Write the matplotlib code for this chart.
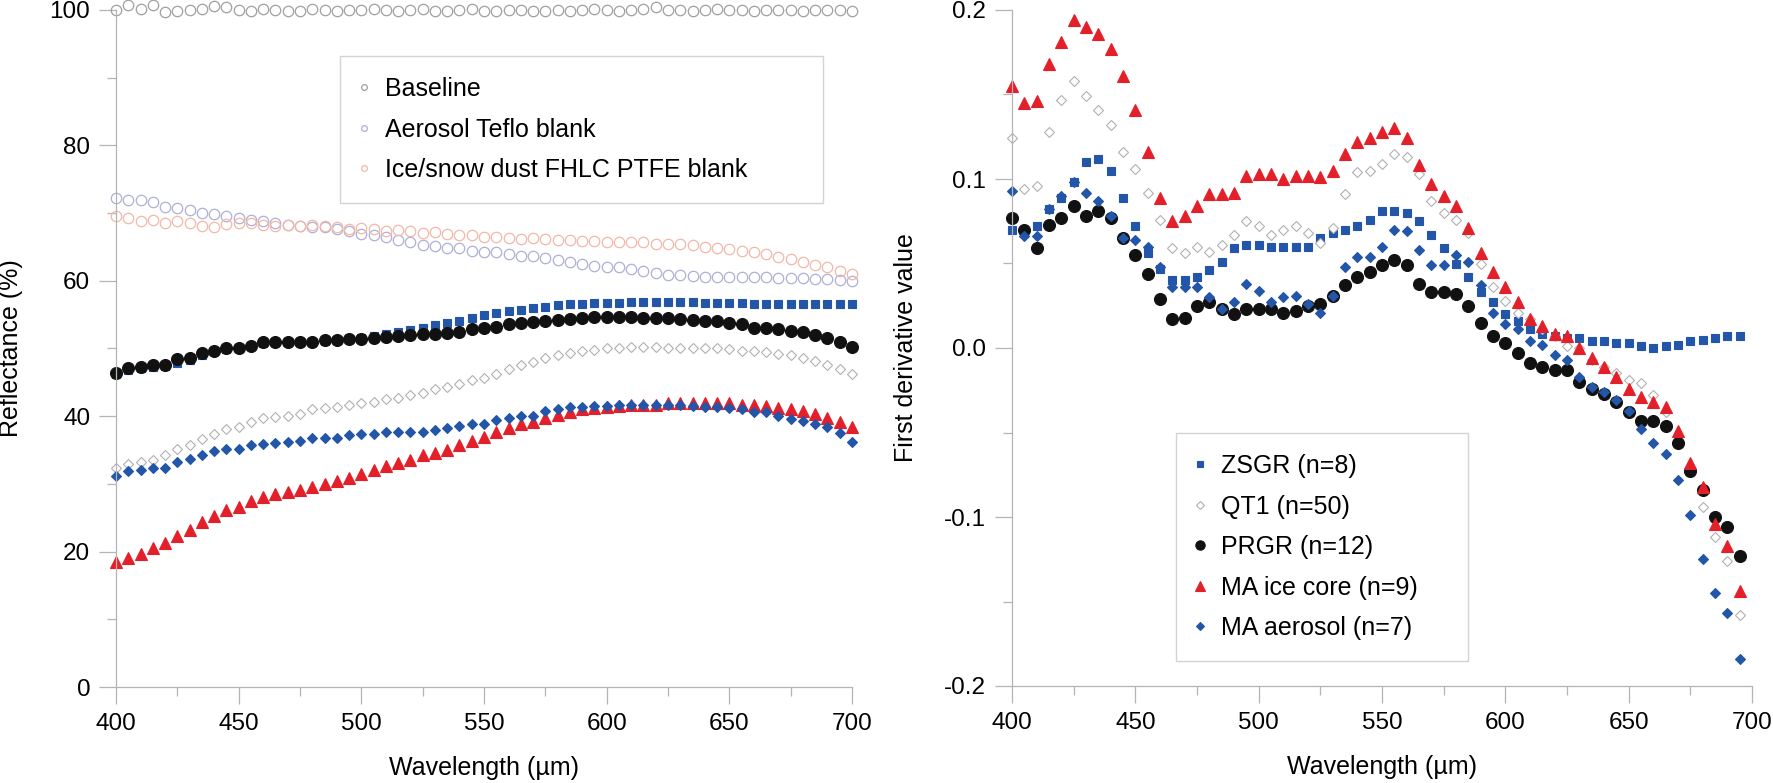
"""Reflectance spectra of dust samples and blanks (left) and their first derivative (right)."""
import numpy as np
import matplotlib
matplotlib.use("Agg")
import matplotlib.pyplot as plt
from matplotlib.ticker import MultipleLocator, FormatStrFormatter

plt.rcParams["font.family"] = ["Liberation Sans", "DejaVu Sans"]

# wavelength grids (nm, axis labelled as in the source figure)
wl_refl = np.arange(400, 705, 5)   # 61 points
wl_deriv = np.arange(400, 700, 5)  # 60 points

# --- left panel: reflectance (%) ---
baseline = [100.0, 100.8, 100.2, 100.7, 99.7, 99.9, 100.0, 100.1, 100.6, 100.5,
            100.0, 99.9, 100.1, 100.0, 99.8, 99.9, 100.2, 100.0, 99.8, 100.0,
            100.0, 100.1, 100.0, 99.9, 100.0, 100.1, 99.8, 99.9, 100.0, 100.1,
            99.8, 99.9, 100.0, 100.0, 99.8, 99.9, 100.0, 99.9, 100.0, 100.1,
            100.0, 99.9, 100.0, 100.2, 100.5, 100.0, 100.0, 99.9, 100.0, 100.1,
            100.0, 100.0, 99.9, 100.0, 100.0, 100.0, 99.9, 100.0, 100.0, 100.0, 99.9]
teflo_blank = [72.3, 72.0, 71.9, 71.6, 70.9, 70.8, 70.4, 70.0, 69.8, 69.5,
               69.3, 69.0, 68.9, 68.6, 68.3, 68.1, 68.0, 67.9, 67.6, 67.4,
               66.9, 66.7, 66.4, 66.0, 65.7, 65.3, 65.2, 64.9, 64.8, 64.4,
               64.3, 64.2, 63.9, 63.7, 63.6, 63.4, 63.1, 62.8, 62.5, 62.2,
               62.1, 62.0, 61.7, 61.5, 61.1, 60.9, 60.8, 60.7, 60.6, 60.5,
               60.6, 60.6, 60.5, 60.5, 60.4, 60.4, 60.4, 60.3, 60.2, 60.1, 60.0]
ptfe_blank = [69.6, 69.3, 68.9, 69.0, 68.5, 68.9, 68.6, 68.1, 68.0, 68.4,
              68.5, 68.5, 68.3, 68.1, 68.3, 68.1, 68.2, 68.1, 67.9, 67.7,
              67.8, 67.6, 67.4, 67.5, 67.3, 67.0, 67.2, 66.9, 66.7, 66.8,
              66.5, 66.4, 66.3, 66.2, 66.3, 66.2, 66.0, 66.0, 65.9, 65.9,
              65.8, 65.8, 65.8, 65.7, 65.5, 65.5, 65.4, 65.3, 65.0, 64.9,
              64.7, 64.4, 64.2, 63.9, 63.5, 63.2, 62.8, 62.4, 62.0, 61.5, 61.0]
zsgr_refl = [46.3, 46.8, 47.1, 47.3, 47.4, 47.9, 48.3, 49.0, 49.6, 49.9,
             50.0, 50.3, 50.8, 50.9, 50.9, 50.9, 51.0, 51.1, 51.3, 51.4,
             51.6, 51.9, 52.2, 52.5, 52.7, 53.1, 53.4, 53.8, 54.1, 54.5,
             55.0, 55.3, 55.6, 55.7, 56.0, 56.2, 56.4, 56.6, 56.6, 56.7,
             56.7, 56.7, 56.8, 56.8, 56.9, 56.8, 56.8, 56.8, 56.7, 56.7,
             56.7, 56.7, 56.6, 56.6, 56.6, 56.6, 56.6, 56.5, 56.5, 56.5, 56.5]
qt1_refl = [32.4, 32.9, 33.2, 33.5, 34.2, 35.2, 35.7, 36.7, 37.4, 38.1,
            38.4, 39.2, 39.7, 39.9, 40.1, 40.3, 41.0, 41.2, 41.4, 41.7,
            42.0, 42.1, 42.5, 42.7, 43.1, 43.5, 44.0, 44.3, 44.7, 45.3,
            45.6, 46.2, 46.9, 47.5, 48.0, 48.6, 49.0, 49.4, 49.7, 49.8,
            50.0, 50.1, 50.2, 50.2, 50.2, 50.1, 50.1, 50.1, 50.0, 50.0,
            49.9, 49.7, 49.6, 49.5, 49.2, 49.0, 48.6, 48.1, 47.6, 46.9, 46.3]
prgr_refl = [46.4, 47.1, 47.3, 47.6, 47.6, 48.4, 48.6, 49.3, 49.7, 50.0,
             50.1, 50.4, 50.9, 51.0, 51.0, 50.9, 51.0, 51.2, 51.3, 51.4,
             51.4, 51.6, 51.7, 51.8, 52.0, 52.1, 52.2, 52.3, 52.4, 52.9,
             53.0, 53.2, 53.6, 53.7, 53.9, 54.1, 54.2, 54.3, 54.5, 54.6,
             54.6, 54.6, 54.7, 54.5, 54.5, 54.5, 54.4, 54.2, 54.1, 54.0,
             53.8, 53.6, 53.1, 53.1, 52.9, 52.6, 52.4, 52.0, 51.6, 51.0, 50.2]
ma_ice_refl = [18.4, 19.1, 19.7, 20.5, 21.2, 22.3, 23.2, 24.4, 25.2, 26.2,
               26.6, 27.5, 28.1, 28.5, 28.8, 29.1, 29.6, 30.0, 30.5, 30.9,
               31.4, 32.0, 32.7, 33.1, 33.6, 34.2, 34.5, 35.0, 35.7, 36.4,
               36.9, 37.6, 38.3, 38.8, 39.2, 39.7, 40.2, 40.6, 41.0, 41.2,
               41.3, 41.5, 41.6, 41.7, 41.7, 41.9, 42.0, 42.0, 41.9, 41.9,
               41.9, 41.7, 41.6, 41.5, 41.2, 41.0, 40.7, 40.3, 39.8, 39.1, 38.4]
ma_aer_refl = [31.2, 31.9, 32.0, 32.4, 32.4, 33.3, 33.7, 34.2, 34.8, 35.2,
               35.1, 35.8, 35.9, 36.1, 36.2, 36.3, 36.8, 36.8, 36.8, 37.2,
               37.3, 37.4, 37.6, 37.6, 37.7, 37.7, 38.0, 38.2, 38.5, 38.8,
               38.9, 39.4, 39.8, 40.1, 40.1, 40.7, 41.0, 41.3, 41.4, 41.5,
               41.5, 41.6, 41.7, 41.7, 41.7, 41.7, 41.6, 41.5, 41.4, 41.4,
               41.2, 41.0, 40.6, 40.6, 40.1, 39.6, 39.3, 38.9, 38.4, 37.5, 36.2]

# --- right panel: first derivative ---
zsgr_d = [.070, .068, .072, .082, .089, .098, .110, .112, .105, .089,
          .072, .056, .047, .040, .040, .042, .046, .051, .059, .061,
          .061, .060, .060, .060, .060, .065, .068, .070, .072, .076,
          .081, .081, .080, .075, .067, .059, .050, .042, .033, .027,
          .020, .016, .011, .008, .007, .006, .006, .004, .004, .003,
          .003, .001, .000, .001, .002, .004, .005, .006, .007, .007]
qt1_d = [.124, .094, .096, .128, .147, .158, .149, .141, .132, .116,
         .106, .092, .076, .059, .056, .060, .057, .061, .067, .075,
         .072, .067, .070, .072, .068, .062, .071, .091, .104, .105,
         .109, .115, .113, .103, .087, .080, .076, .068, .050, .036,
         .028, .021, .017, .011, .007, .001, .000, -.007, -.011, -.015,
         -.019, -.021, -.028, -.038, -.056, -.072, -.094, -.112, -.126, -.158]
prgr_d = [.077, .070, .059, .073, .077, .084, .078, .081, .077, .065,
          .055, .044, .029, .017, .018, .025, .027, .023, .020, .023,
          .023, .023, .021, .022, .025, .026, .031, .037, .042, .045,
          .049, .052, .049, .038, .033, .033, .032, .025, .015, .007,
          .003, -.003, -.009, -.011, -.013, -.013, -.020, -.024, -.027, -.032,
          -.038, -.043, -.043, -.046, -.056, -.073, -.084, -.100, -.106, -.123]
ma_ice_d = [.155, .145, .146, .168, .181, .194, .190, .186, .177, .161,
            .141, .116, .089, .075, .078, .084, .091, .091, .092, .102,
            .103, .103, .100, .102, .102, .101, .105, .115, .122, .124,
            .128, .130, .124, .108, .097, .090, .084, .071, .056, .045,
            .036, .027, .017, .013, .008, .007, .000, -.006, -.011, -.017,
            -.024, -.029, -.032, -.035, -.049, -.068, -.082, -.104, -.117, -.144]
ma_aer_d = [.093, .066, .066, .082, .090, .098, .092, .087, .078, .065,
            .064, .060, .048, .036, .036, .036, .030, .023, .027, .038,
            .034, .027, .030, .031, .026, .021, .031, .048, .054, .054,
            .060, .070, .069, .058, .049, .049, .055, .051, .037, .021,
            .014, .011, .004, .002, -.004, -.007, -.017, -.023, -.026, -.031,
            -.037, -.048, -.056, -.063, -.078, -.099, -.125, -.145, -.157, -.184]

BLUE, RED, BLACK = "#2356a8", "#e3202a", "#111111"
GRID_GREY = "#b4b4b4"
FS = 18       # labels and legends
FS_TICK = 17.5

# marker style per sample: (label, marker, size, face, edge, line colour)
samples = [
    ("ZSGR (n=8)", "s", 6.3, BLUE, BLUE, "#9ab0da"),
    ("QT1 (n=50)", "D", 5.6, "white", "#b0b0b0", "#b8b8b8"),
    ("PRGR (n=12)", "o", 8.6, BLACK, BLACK, "#8c8c8c"),
    ("MA ice core (n=9)", "^", 8.6, RED, RED, "#f09a9a"),
    ("MA aerosol (n=7)", "D", 5.5, BLUE, BLUE, "#a3b8e0"),
]
refl_series = [zsgr_refl, qt1_refl, prgr_refl, ma_ice_refl, ma_aer_refl]
deriv_series = [zsgr_d, qt1_d, prgr_d, ma_ice_d, ma_aer_d]

blanks = [("Baseline", baseline, "#a0a0a0"),
          ("Aerosol Teflo blank", teflo_blank, "#aeb0d6"),
          ("Ice/snow dust FHLC PTFE blank", ptfe_blank, "#f2b8a8")]


def style_axes(ax):
    for side in ("top", "right"):
        ax.spines[side].set_visible(False)
    for side in ("left", "bottom"):
        ax.spines[side].set_color(GRID_GREY)
        ax.spines[side].set_linewidth(0.9)
    ax.tick_params(which="major", direction="out", length=12.5, width=0.9,
                   color=GRID_GREY, labelsize=FS_TICK, pad=6)
    ax.tick_params(which="minor", direction="out", length=6.5, width=0.9,
                   color=GRID_GREY)
    ax.set_xlim(400, 700)
    ax.xaxis.set_major_locator(MultipleLocator(50))
    ax.xaxis.set_minor_locator(MultipleLocator(25))
    ax.set_xlabel("Wavelength (µm)", fontsize=FS, labelpad=15)


def add_legend(ax, handles, labels, anchor, scale):
    leg = ax.legend(handles, labels, loc="upper left", bbox_to_anchor=anchor,
                    mode="expand", borderaxespad=0, fontsize=FS, frameon=True,
                    fancybox=False, edgecolor="#c8c8c8", borderpad=0.84,
                    labelspacing=0.66, handlelength=0.2, handletextpad=0.76,
                    markerscale=scale)
    leg.get_frame().set_linewidth(1.0)
    return leg


fig = plt.figure(figsize=(17.73, 7.83), dpi=100)
ax1 = fig.add_axes([116 / 1773, 96 / 783, 736 / 1773, 677 / 783])
ax2 = fig.add_axes([1012 / 1773, 97 / 783, 740 / 1773, 676 / 783])

# left: blanks (open circles) then samples
for label, vals, col in blanks:
    ax1.plot(wl_refl, vals, ls="none", marker="o", ms=7.5, mfc="none",
             mec=col, mew=0.9, label=label, clip_on=False)
for (label, mk, ms, fc, ec, _), vals in zip(samples, refl_series):
    ax1.plot(wl_refl, vals, ls="none", marker=mk, ms=ms, mfc=fc, mec=ec,
             mew=0.8, clip_on=False)

style_axes(ax1)
ax1.set_ylim(0, 100)
ax1.yaxis.set_major_locator(MultipleLocator(20))
ax1.yaxis.set_minor_locator(MultipleLocator(10))
ax1.set_ylabel("Reflectance (%)", fontsize=FS, labelpad=19)
h1, l1 = ax1.get_legend_handles_labels()
add_legend(ax1, h1, l1, (0.305, 0.725, 0.656, 0.207), 0.55)

# right: first derivative with thin connecting lines
for (label, mk, ms, fc, ec, lc), vals in zip(samples, deriv_series):
    ax2.plot(wl_deriv, vals, color=lc, lw=0.8, marker=mk, ms=ms, mfc=fc,
             mec=ec, mew=0.8, label=label, clip_on=False)

style_axes(ax2)
ax2.set_ylim(-0.2, 0.2)
ax2.yaxis.set_major_locator(MultipleLocator(0.1))
ax2.yaxis.set_minor_locator(MultipleLocator(0.05))
ax2.yaxis.set_major_formatter(FormatStrFormatter("%.1f"))
ax2.set_ylabel("First derivative value", fontsize=FS, labelpad=19)
h2, l2 = ax2.get_legend_handles_labels()
for h in h2:
    h.set_linestyle("none")
add_legend(ax2, h2, l2, (0.222, 0.052, 0.394, 0.322), 0.78)

fig.savefig("out.png", dpi=100)
